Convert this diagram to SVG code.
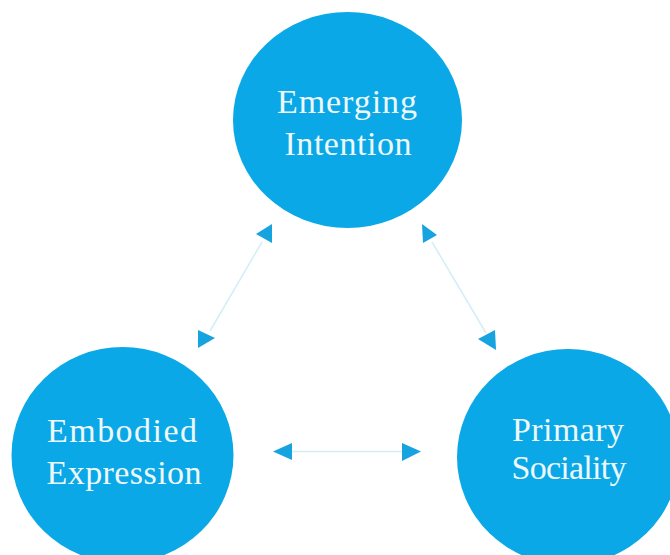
<svg xmlns="http://www.w3.org/2000/svg" width="670" height="555" viewBox="0 0 670 555">
  <style>
    .node { fill: #0aa8e7; }
    .label { font-family: "Liberation Serif", "Times New Roman", serif; font-size: 34px; fill: #eef8fb; text-anchor: middle; }
    .link { stroke: #d3eef6; stroke-width: 1.5; fill: none; }
    .head { fill: #16a3e0; }
  </style>
  <rect x="0" y="0" width="670" height="555" fill="#ffffff"/>

  <g id="connectors">
    <line class="link" x1="262" y1="242" x2="210" y2="331"/>
    <polygon class="head" points="256,234 272,224 272,243"/>
    <polygon class="head" points="198,330 198,348 215,338"/>

    <line class="link" x1="432" y1="242" x2="486" y2="333"/>
    <polygon class="head" points="422,224 423,243 437,235"/>
    <polygon class="head" points="478,339 495,330 496,350"/>

    <line class="link" x1="290" y1="451.5" x2="403" y2="451.5"/>
    <polygon class="head" points="273,451.5 292,443 292,460"/>
    <polygon class="head" points="402,443 402,461 421,451.5"/>
  </g>

  <g id="emerging-intention">
    <ellipse class="node" cx="347.5" cy="120" rx="114.5" ry="108"/>
    <text class="label" x="347" y="113" textLength="140" lengthAdjust="spacing">Emerging</text>
    <text class="label" x="348" y="155" textLength="127" lengthAdjust="spacing">Intention</text>
  </g>

  <g id="embodied-expression">
    <ellipse class="node" cx="122.5" cy="455" rx="111" ry="108"/>
    <text class="label" x="122" y="442" textLength="150" lengthAdjust="spacing">Embodied</text>
    <text class="label" x="124" y="484" textLength="155" lengthAdjust="spacing">Expression</text>
  </g>

  <g id="primary-sociality">
    <ellipse class="node" cx="568" cy="457" rx="111" ry="108"/>
    <text class="label" x="568" y="441" textLength="112" lengthAdjust="spacing">Primary</text>
    <text class="label" x="569" y="479" textLength="115" lengthAdjust="spacing">Sociality</text>
  </g>
</svg>
